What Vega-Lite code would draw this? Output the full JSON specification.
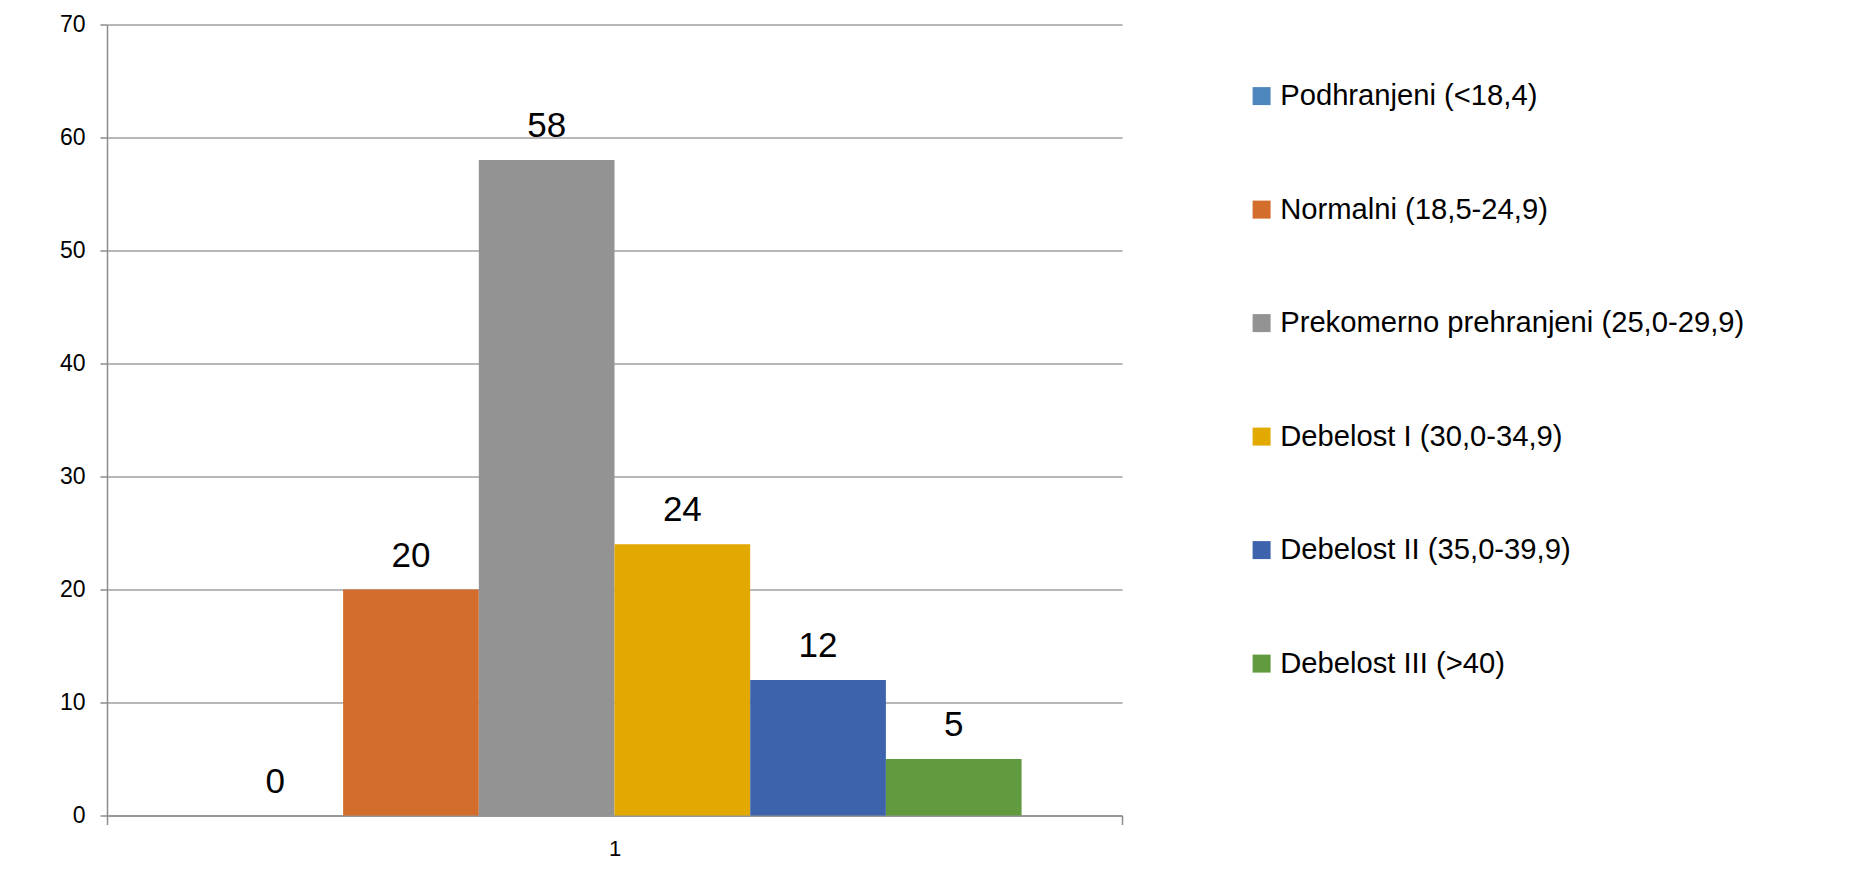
{
  "$schema": "https://vega.github.io/schema/vega-lite/v6.json",
  "width": 1015,
  "height": 791,
  "autosize": {"type": "none"},
  "padding": {"left": 107, "top": 24.5, "right": 736, "bottom": 63.5},
  "background": "white",
  "config": {
    "view": {"stroke": null},
    "font": "Liberation Sans"
  },
  "data": {
    "values": [
      {"grupa": "1", "kategorija": "Podhranjeni (<18,4)", "vrednost": 0},
      {"grupa": "1", "kategorija": "Normalni (18,5-24,9)", "vrednost": 20},
      {"grupa": "1", "kategorija": "Prekomerno prehranjeni (25,0-29,9)", "vrednost": 58},
      {"grupa": "1", "kategorija": "Debelost I (30,0-34,9)", "vrednost": 24},
      {"grupa": "1", "kategorija": "Debelost II (35,0-39,9)", "vrednost": 12},
      {"grupa": "1", "kategorija": "Debelost III (>40)", "vrednost": 5}
    ]
  },
  "encoding": {
    "x": {
      "field": "grupa",
      "type": "nominal",
      "scale": {"paddingInner": 0, "paddingOuter": 0},
      "axis": {
        "title": null,
        "labelAngle": 0,
        "labelFontSize": 22,
        "labelColor": "#000000",
        "labelPadding": 14,
        "tickBand": "extent",
        "tickSize": 9,
        "tickWidth": 1.5,
        "tickColor": "#8c8c8c",
        "domainColor": "#8c8c8c",
        "domainWidth": 1.5,
        "grid": false
      }
    },
    "xOffset": {
      "field": "kategorija",
      "type": "nominal",
      "sort": null,
      "scale": {"paddingInner": 0, "paddingOuter": 0.74}
    },
    "y": {
      "field": "vrednost",
      "type": "quantitative",
      "stack": null,
      "scale": {"domain": [0, 70], "nice": false},
      "axis": {
        "title": null,
        "values": [0, 10, 20, 30, 40, 50, 60, 70],
        "labelFontSize": 23,
        "labelColor": "#000000",
        "labelPadding": 15,
        "tickSize": 7,
        "tickWidth": 1.5,
        "tickColor": "#8c8c8c",
        "domainColor": "#8c8c8c",
        "domainWidth": 1.5,
        "gridColor": "#a0a0a0",
        "gridWidth": 1.5
      }
    }
  },
  "layer": [
    {
      "mark": {"type": "bar"},
      "encoding": {
        "color": {
          "field": "kategorija",
          "type": "nominal",
          "scale": {
            "domain": ["Podhranjeni (<18,4)", "Normalni (18,5-24,9)", "Prekomerno prehranjeni (25,0-29,9)", "Debelost I (30,0-34,9)", "Debelost II (35,0-39,9)", "Debelost III (>40)"],
            "range": ["#4e87be", "#d36d2c", "#939393", "#e2aa00", "#3c63ac", "#629a3f"]
          },
          "legend": {
            "title": null,
            "orient": "none",
            "legendX": 1140,
            "legendY": 57,
            "padding": 0,
            "symbolType": "square",
            "symbolSize": 324,
            "symbolStrokeWidth": 0,
            "symbolOpacity": 1,
            "labelFontSize": 29.2,
            "labelColor": "#000000",
            "labelOffset": 4,
            "labelLimit": 700,
            "rowPadding": 83.5,
            "columns": 1
          }
        }
      }
    },
    {
      "mark": {"type": "text", "fontSize": 35, "baseline": "alphabetic", "dy": -23, "color": "#000000"},
      "encoding": {
        "text": {"field": "vrednost", "type": "quantitative"}
      }
    }
  ]
}
